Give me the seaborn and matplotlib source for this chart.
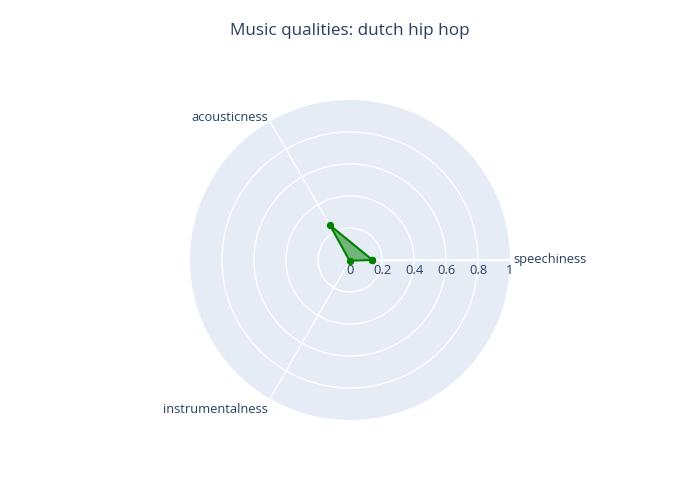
import numpy as np
import pandas as pd
import matplotlib
matplotlib.use('Agg')
import matplotlib.pyplot as plt
import seaborn as sns

# 데이터
categories = ['speechiness', 'acousticness', 'instrumentalness']
values = [0.14, 0.25, 0.005]
r_ticks = [0, 0.2, 0.4, 0.6, 0.8, 1]
r_tick_labels = ['0', '0.2', '0.4', '0.6', '0.8', '1']
title = 'Music qualities: dutch hip hop'

sns.set_style('white')
plt.rcParams['font.family'] = ['Open Sans', 'DejaVu Sans']
text_color = '#2a3f5f'
fs = 9.3

angles = np.linspace(0, 2 * np.pi, len(categories), endpoint=False)
df = pd.DataFrame({
    'theta': list(angles) + [angles[0]],
    'r': values + [values[0]],
})

fig = plt.figure(figsize=(7, 5), dpi=100)
ax = fig.add_axes([190 / 700, 80 / 500, 320 / 700, 320 / 500], projection='polar')
ax.set_facecolor('#E5ECF6')
ax.spines['polar'].set_visible(False)

ax.fill(df['theta'], df['r'], color='green', alpha=0.5, zorder=3, linewidth=0)
sns.lineplot(data=df, x='theta', y='r', sort=False, estimator=None, ax=ax,
             color='green', linewidth=1.5, marker='o', markersize=4.5,
             markeredgecolor='green', zorder=4)

ax.set_ylim(0, 1)
ax.set_yticks(r_ticks[1:-1])
ax.set_yticklabels([])
ax.set_xticks(angles)
ax.set_xticklabels([])
ax.grid(True, color='white', linewidth=1)
ax.set_xlabel('')
ax.set_ylabel('')

# 방사축 선과 눈금 라벨
ax.plot([0, 0], [0, 1], color='white', linewidth=1.2, zorder=2)
for r, lab in zip(r_ticks, r_tick_labels):
    ax.annotate(lab, xy=(0, r), xytext=(0, -3), textcoords='offset points',
                ha='center', va='top', fontsize=fs, color=text_color,
                annotation_clip=False)

# 각 축 라벨
ax.text(angles[0], 1.02, categories[0], ha='left', va='center',
        fontsize=fs, color=text_color, clip_on=False)
ax.text(angles[1], 1.025, categories[1], ha='right', va='center',
        fontsize=fs, color=text_color, clip_on=False)
ax.text(angles[2], 1.03, categories[2], ha='right', va='top',
        fontsize=fs, color=text_color, clip_on=False)

fig.text(0.5, 1 - 31 / 500, title, ha='center', va='center',
         fontsize=12.3, color=text_color)

fig.savefig('out.png', dpi=100, facecolor='white')
